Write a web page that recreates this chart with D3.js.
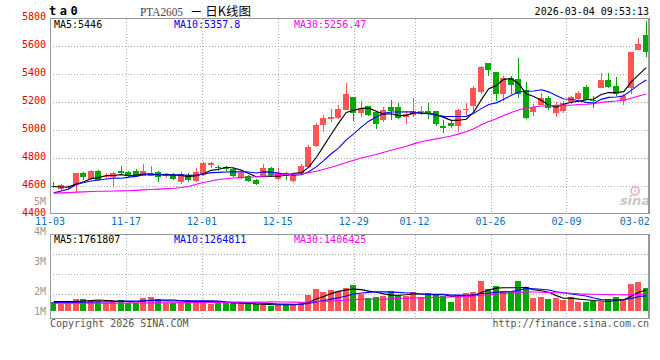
<!DOCTYPE html>
<html><head><meta charset="utf-8">
<script src="https://cdn.jsdelivr.net/npm/d3@7"></script>
<style>
html,body{margin:0;padding:0;background:#fff;}
svg{display:block;}
</style></head><body>
<svg id="chart" width="660" height="360"></svg>
<script>
// ---------------- DATA ----------------
const dates = ["11-03","11-04","11-05","11-06","11-07","11-10","11-11","11-12","11-13","11-14","11-17","11-18","11-19","11-20","11-21","11-24","11-25","11-26","11-27","11-28",
"12-01","12-02","12-03","12-04","12-05","12-08","12-09","12-10","12-11","12-12","12-15","12-16","12-17","12-18","12-19","12-22","12-23","12-24","12-25","12-26","12-29","12-30","12-31",
"01-05","01-06","01-07","01-08","01-09","01-12","01-13","01-14","01-15","01-16","01-19","01-20","01-21","01-22","01-23","01-26","01-27","01-28","01-29","01-30",
"02-02","02-03","02-04","02-05","02-06","02-09","02-10","02-11","02-12","02-13","02-24","02-25","02-26","02-27",
"03-02","03-03","03-04"];

const opens = [4603,4580,4585,4608,4690,4651,4706,4663,4663,4710,
4699,4710,4675,4675,4699,4668,4682,4632,4682,4639,
4680,4751,4739,4739,4723,4659,4675,4644,4675,4727,
4651,4694,4639,4687,4739,4889,5039,5080,5087,5146,
5234,5123,5168,5127,5068,5163,5163,5096,5104,5127,
5134,5139,5032,5049,5027,5144,5168,5270,5477,5413,
5259,5370,5361,5289,5130,5177,5232,5123,5139,5199,
5223,5306,5211,5299,5354,5313,5206,5299,5568,5682];
const highs = [4627,4616,4605,4692,4700,4715,4712,4690,4700,4746,
4706,4720,4758,4745,4706,4690,4690,4698,4695,4727,
4775,4770,4750,4746,4735,4700,4682,4650,4758,4735,
4727,4700,4690,4758,4890,5049,5104,5151,5182,5334,
5239,5206,5175,5139,5166,5211,5191,5127,5230,5175,
5191,5139,5068,5068,5151,5191,5313,5456,5480,5413,
5389,5384,5513,5341,5189,5266,5241,5199,5205,5246,
5282,5318,5241,5409,5409,5377,5259,5560,5656,5782];
const lows = [4587,4566,4575,4549,4640,4645,4637,4655,4596,4687,
4661,4661,4668,4668,4627,4660,4645,4616,4630,4630,
4670,4727,4710,4706,4661,4650,4630,4606,4663,4663,
4646,4646,4632,4680,4730,4880,4984,5056,5080,5140,
5063,5091,5100,5009,5060,5068,5080,5044,5091,5104,
5080,5032,4977,5013,4984,5104,5132,5259,5384,5204,
5204,5259,5227,5080,5099,5177,5146,5091,5120,5187,
5211,5211,5156,5299,5299,5246,5182,5259,5568,5520];
const closes = [4592,4609,4596,4690,4663,4706,4644,4673,4691,4691,
4668,4668,4710,4691,4663,4682,4651,4687,4646,4699,
4766,4761,4727,4718,4670,4691,4639,4611,4727,4680,
4694,4670,4680,4746,4882,5039,5087,5096,5151,5254,
5120,5151,5104,5044,5144,5139,5084,5111,5139,5139,
5116,5044,5013,5032,5144,5151,5299,5449,5432,5259,
5370,5325,5259,5084,5161,5232,5154,5180,5194,5234,
5263,5211,5204,5354,5306,5259,5246,5556,5611,5556];
const volumes = [725000,583000,833000,1000000,1000000,892000,833000,667000,833000,917000,
667000,667000,1058000,1167000,1000000,667000,667000,775000,917000,833000,
833000,608000,725000,642000,642000,558000,558000,558000,558000,442000,
500000,558000,558000,725000,1333000,1833000,1608000,1750000,1667000,1942000,
2167000,1392000,1108000,1192000,1275000,1667000,1333000,1275000,1608000,1192000,
1500000,1333000,1275000,775000,1333000,1500000,1608000,2500000,1833000,2083000,
1667000,1608000,2500000,2000000,1108000,1192000,1000000,1108000,917000,1192000,
720000,740000,800000,720000,960000,1192000,1000000,2250000,2417000,1917000];

const ma5Head  = [4596,4593,4594,4614];
const ma10Head = [4551,4564,4579,4611,4625,4636,4643,4650,4657];
const ma30Head = [4549,4551,4553,4556,4558,4561,4562,4563,4564,4565,4566,4569,4572,4575,4578,4581,4584,4589,4596,4612,4625,4636,4646,4652,4657,4660,4663,4666,4668];
const volMa5Head  = [780000,780000,790000,800000];
const volMa10Head = [700000,700000,710000,720000,730000,740000,750000,760000,770000];
const volMa30Head = [640000,640000,645000,645000,650000,650000,655000,655000,660000,660000,665000,665000,670000,675000,680000,685000,690000,695000,700000,705000,710000,715000,720000,725000,728000,731000,734000,737000,740000];

const priceTicks = [4400,4600,4800,5000,5200,5400,5600,5800];
const volTickValues = [5e6,4e6,3e6,2e6,1e6];
const volTickLabels = ["5M","4M","3M","2M","1M"];
const dateTicks = ["11-03","11-17","12-01","12-15","12-29","01-12","01-26","02-09","03-02"];
const priceMaLabels = ["MA5:5446","MA10:5357.8","MA30:5256.47"];
const volMaLabels = ["MA5:1761807","MA10:1264811","MA30:1406425"];
const titleCode = "PTA2605";
const titleRest = "－ 日K线图";
const stamp = "2026-03-04 09:53:13";

// ---------------- CHART ----------------
const L = 50, R = 650;
const pTop = 18.5, pBot = 213.5;
const vTop = 234.5, vBot = 318.5;
const UP = "#ff5555", DOWN = "#00a800";
const MA_COLORS = ["#000000", "#0000ff", "#ff00ff"];
const mono = "'DejaVu Sans Mono', monospace";

const svg = d3.select("#chart");
const idx = d3.range(dates.length);
const xBand = d3.scaleBand().domain(idx).range([L, R]);
const xPt = d3.scalePoint().domain(idx).range([L, R]);
const cx = i => xBand(i) + xBand.bandwidth() / 2;
const yP = d3.scaleLinear().domain([4400, 5800]).range([214, 18]);
const yV = d3.scaleLinear().domain([0, 6e6]).range([311, 239]);
const volLabelY = d3.scaleLinear().domain([2e6, 5e6]).range([291, 200.3]);
const volGridY = d3.scaleLinear().domain([0, 4]).range([vTop, 314.5]);

function movingAvg(vals, n, head) {
  return vals.map((v, i) => i < n - 1 ? head[i] : d3.mean(vals.slice(i - n + 1, i + 1)));
}
const priceMAs = [movingAvg(closes, 5, ma5Head), movingAvg(closes, 10, ma10Head), movingAvg(closes, 30, ma30Head)];
const volMAs = [movingAvg(volumes, 5, volMa5Head), movingAvg(volumes, 10, volMa10Head), movingAvg(volumes, 30, volMa30Head)];

const defs = svg.append("defs");
defs.append("clipPath").attr("id", "cp").append("rect")
  .attr("x", L).attr("y", pTop).attr("width", R - L).attr("height", pBot - pTop);
defs.append("clipPath").attr("id", "cv").append("rect")
  .attr("x", L).attr("y", vTop).attr("width", R - L).attr("height", vBot - vTop);

// grids
const grid = svg.append("g").attr("stroke", "#aaa").attr("stroke-dasharray", "1,2")
  .attr("shape-rendering", "crispEdges").attr("fill", "none");
grid.selectAll("line.hp").data(priceTicks.filter(v => v > 4400 && v < 5800)).join("line")
  .attr("class", "hp").attr("x1", L).attr("x2", R)
  .attr("y1", d => Math.round(yP(d)) + 0.5).attr("y2", d => Math.round(yP(d)) + 0.5);
const vTickIdx = dateTicks.slice(1, -1).map(d => dates.indexOf(d));
grid.selectAll("line.vp").data(vTickIdx).join("line")
  .attr("class", "vp").attr("y1", pTop).attr("y2", pBot)
  .attr("x1", d => Math.round(xPt(d)) + 0.5).attr("x2", d => Math.round(xPt(d)) + 0.5);
grid.selectAll("line.hv").data([1, 2, 3]).join("line")
  .attr("class", "hv").attr("x1", L).attr("x2", R)
  .attr("y1", d => volGridY(d)).attr("y2", d => volGridY(d));
grid.selectAll("line.vv").data(vTickIdx).join("line")
  .attr("class", "vv").attr("y1", vTop).attr("y2", vBot)
  .attr("x1", d => Math.round(xPt(d)) + 0.5).attr("x2", d => Math.round(xPt(d)) + 0.5);

// sina watermark
const wm = svg.append("g").attr("opacity", 0.75);
wm.append("circle").attr("cx", 635).attr("cy", 191).attr("r", 4)
  .attr("fill", "none").attr("stroke", "#f2a0a0").attr("stroke-width", 2);
wm.append("circle").attr("cx", 635).attr("cy", 191).attr("r", 1.2).attr("fill", "#bbb");
wm.append("text").attr("x", 635).attr("y", 205).attr("text-anchor", "middle")
  .attr("font-family", "'DejaVu Sans', sans-serif").attr("font-size", 13)
  .attr("font-weight", "bold").attr("font-style", "italic").attr("fill", "#b5b5b5").text("sina");

// candles
const rows = idx.map(i => ({ i, o: opens[i], h: highs[i], l: lows[i], c: closes[i], v: volumes[i] }));
const gC = svg.append("g").attr("clip-path", "url(#cp)").attr("shape-rendering", "crispEdges");
gC.selectAll("line.wick").data(rows).join("line").attr("class", "wick")
  .attr("x1", d => Math.floor(cx(d.i)) + 0.5).attr("x2", d => Math.floor(cx(d.i)) + 0.5)
  .attr("y1", d => yP(d.h)).attr("y2", d => yP(d.l))
  .attr("stroke", d => d.c >= d.o ? UP : DOWN).attr("stroke-width", 1);
gC.selectAll("rect.body").data(rows).join("rect").attr("class", "body")
  .attr("x", d => Math.floor(cx(d.i)) - 3).attr("width", 6)
  .attr("y", d => yP(Math.max(d.o, d.c)))
  .attr("height", d => Math.max(1, Math.abs(yP(d.o) - yP(d.c))))
  .attr("fill", d => d.c >= d.o ? UP : DOWN);

// price MA lines
const gMA = svg.append("g").attr("clip-path", "url(#cp)").attr("fill", "none");
priceMAs.forEach((ma, k) => {
  gMA.append("path").datum(ma)
    .attr("d", d3.line().x((d, i) => cx(i)).y(d => yP(d)))
    .attr("stroke", MA_COLORS[k]).attr("stroke-width", 1.1);
});

// volume bars
const gV = svg.append("g").attr("clip-path", "url(#cv)").attr("shape-rendering", "crispEdges");
gV.selectAll("rect").data(rows).join("rect")
  .attr("x", d => Math.floor(cx(d.i)) - 3).attr("width", 6)
  .attr("y", d => yV(d.v)).attr("height", d => yV(0) - yV(d.v))
  .attr("fill", d => d.c >= d.o ? UP : DOWN);
const gVM = svg.append("g").attr("clip-path", "url(#cv)").attr("fill", "none");
volMAs.forEach((ma, k) => {
  gVM.append("path").datum(ma)
    .attr("d", d3.line().x((d, i) => cx(i)).y(d => yV(d)))
    .attr("stroke", MA_COLORS[k]).attr("stroke-width", 1.1);
});

// panel borders
const border = svg.append("g").attr("fill", "none").attr("stroke", "#999").attr("shape-rendering", "crispEdges");
border.append("rect").attr("x", L + 0.5).attr("y", pTop).attr("width", R - L - 1).attr("height", pBot - pTop);
border.append("line").attr("x1", R - 1.5).attr("x2", R - 1.5).attr("y1", pTop).attr("y2", pBot);
border.append("rect").attr("x", L + 0.5).attr("y", vTop).attr("width", R - L - 1).attr("height", vBot - vTop);
border.append("line").attr("x1", R - 1.5).attr("x2", R - 1.5).attr("y1", vTop).attr("y2", vBot);

// axis labels
const txt = svg.append("g").attr("font-family", mono).attr("font-size", 10);
txt.selectAll("text.pl").data(priceTicks).join("text").attr("class", "pl")
  .attr("x", 46).attr("y", d => yP(d) + 2).attr("text-anchor", "end").attr("fill", "#e00000")
  .text(d => d);
txt.selectAll("text.vl").data(volTickValues).join("text").attr("class", "vl")
  .attr("x", 46).attr("y", d => Math.min(volLabelY(d), 311) + 4.3).attr("text-anchor", "end").attr("fill", "#999")
  .text((d, i) => volTickLabels[i]);
txt.selectAll("text.xl").data(dateTicks).join("text").attr("class", "xl")
  .attr("x", d => xPt(dates.indexOf(d))).attr("y", 224.5).attr("text-anchor", "middle").attr("fill", "#0a6fc2")
  .text(d => d);

// MA legends
const legX = [54, 174, 294];
txt.selectAll("text.pm").data(priceMaLabels).join("text").attr("class", "pm")
  .attr("x", (d, i) => legX[i]).attr("y", 27.5).attr("fill", (d, i) => MA_COLORS[i]).text(d => d);
txt.selectAll("text.vm").data(volMaLabels).join("text").attr("class", "vm")
  .attr("x", (d, i) => legX[i]).attr("y", 242.5).attr("fill", (d, i) => MA_COLORS[i]).text(d => d);

// header
svg.append("text").attr("x", 49).attr("y", 15).attr("font-family", mono).attr("font-size", 12)
  .attr("font-weight", "bold").attr("letter-spacing", 3.5).attr("fill", "#000").text("ta0");
svg.append("text").attr("x", 140).attr("y", 15.5).attr("font-family", "'Liberation Serif', serif")
  .attr("font-size", 13).attr("fill", "#444").attr("textLength", 43).attr("lengthAdjust", "spacingAndGlyphs")
  .text(titleCode);
svg.append("text").attr("x", 190).attr("y", 15.5).attr("font-family", "'Noto Sans CJK SC', sans-serif")
  .attr("font-size", 12.5).attr("fill", "#000").text(titleRest);
svg.append("text").attr("x", 649).attr("y", 15).attr("text-anchor", "end").attr("font-family", mono)
  .attr("font-size", 10).attr("fill", "#000").text(stamp);

// footer
svg.append("text").attr("x", 50).attr("y", 327).attr("font-family", mono).attr("font-size", 10)
  .attr("fill", "#555").text("Copyright 2026 SINA.COM");
svg.append("text").attr("x", 649).attr("y", 327).attr("text-anchor", "end").attr("font-family", mono)
  .attr("font-size", 10).attr("fill", "#555").text("http://finance.sina.com.cn");
</script>
</body></html>
